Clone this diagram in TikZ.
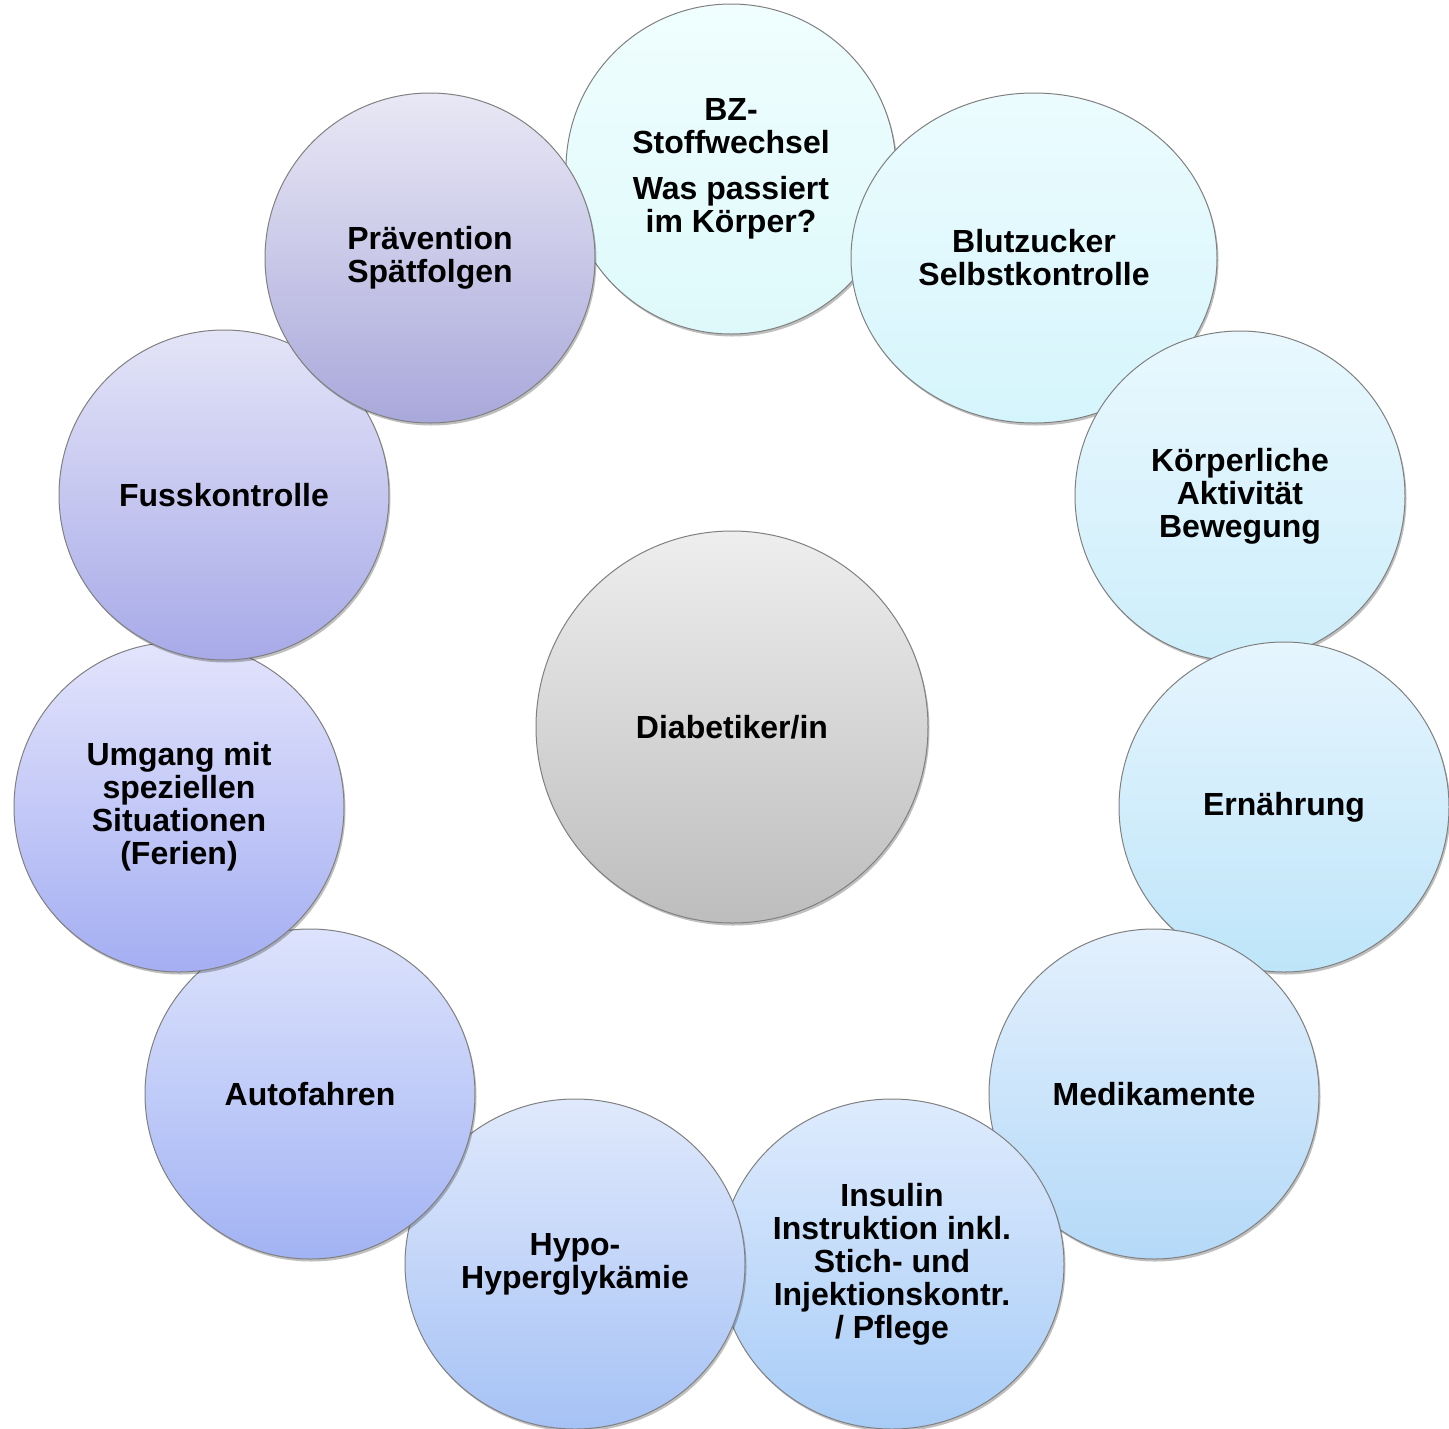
\documentclass[tikz,border=0pt]{standalone}
\usepackage{fontspec}
\setmainfont{Liberation Sans}
\usetikzlibrary{shadows,shapes.geometric}
\definecolor{c0t}{HTML}{F0FEFE}\definecolor{c0b}{HTML}{DEF9FB}
\definecolor{c1t}{HTML}{ECFCFE}\definecolor{c1b}{HTML}{D5F5FC}
\definecolor{c2t}{HTML}{E9F8FE}\definecolor{c2b}{HTML}{CDEEFB}
\definecolor{c3t}{HTML}{E6F5FE}\definecolor{c3b}{HTML}{BEE5F9}
\definecolor{c4t}{HTML}{E3F0FD}\definecolor{c4b}{HTML}{B4D9F8}
\definecolor{c5t}{HTML}{DEEBFD}\definecolor{c5b}{HTML}{A8CCF7}
\definecolor{c6t}{HTML}{E0E9FC}\definecolor{c6b}{HTML}{A6C2F5}
\definecolor{c7t}{HTML}{DDE3FC}\definecolor{c7b}{HTML}{A2B3F4}
\definecolor{c8t}{HTML}{E3E4FC}\definecolor{c8b}{HTML}{A4AEF2}
\definecolor{c9t}{HTML}{E4E4F8}\definecolor{c9b}{HTML}{A7AAE8}
\definecolor{c10t}{HTML}{E9E8F5}\definecolor{c10b}{HTML}{A9A8DB}
\definecolor{cct}{HTML}{EEEEEE}\definecolor{ccb}{HTML}{BDBDBD}
\definecolor{rim}{HTML}{808080}
\tikzset{
  bubble/.style={ellipse, draw=rim, line width=1pt, minimum width=330pt, minimum height=330pt,
    inner sep=0pt, align=center, font=\fontsize{32}{33}\selectfont\bfseries,
    drop shadow={shadow xshift=1.5pt, shadow yshift=-2.5pt, opacity=0.25, fill=black}},
  hub/.style={bubble, minimum width=392pt, minimum height=392pt}
}
\begin{document}
\begin{tikzpicture}[x=1pt,y=-1pt]
\useasboundingbox (0,0) rectangle (1449,1428);
\node[hub, top color=cct, bottom color=ccb] (hub) at (732,727) {Diabetiker/in};
\node[bubble, top color=c0t, bottom color=c0b] (n0) at (731,169)
  {BZ-\\Stoffwechsel\\[13pt]Was passiert\\im Körper?};
\node[bubble, top color=c1t, bottom color=c1b, minimum width=366pt] (n1) at (1034,258)
  {Blutzucker\\Selbstkontrolle};
\node[bubble, top color=c2t, bottom color=c2b] (n2) at (1240,496)
  {Körperliche\\Aktivität\\Bewegung};
\node[bubble, top color=c3t, bottom color=c3b] (n3) at (1284,807)
  {Ernährung};
\node[bubble, top color=c4t, bottom color=c4b] (n4) at (1154,1094)
  {Medikamente};
\node[bubble, top color=c5t, bottom color=c5b, minimum width=344pt] (n5) at (892,1264)
  {Insulin\\Instruktion inkl.\\Stich- und\\Injektionskontr.\\/ Pflege};
\node[bubble, top color=c6t, bottom color=c6b, minimum width=340pt] (n6) at (575,1264)
  {Hypo-\\Hyperglykämie};
\node[bubble, top color=c7t, bottom color=c7b] (n7) at (310,1094)
  {Autofahren};
\node[bubble, top color=c8t, bottom color=c8b] (n8) at (179,807)
  {Umgang mit\\speziellen\\Situationen\\(Ferien)};
\node[bubble, top color=c9t, bottom color=c9b] (n9) at (224,495)
  {Fusskontrolle};
\node[bubble, top color=c10t, bottom color=c10b] (n10) at (430,258)
  {Prävention\\Spätfolgen};
\end{tikzpicture}
\end{document}
